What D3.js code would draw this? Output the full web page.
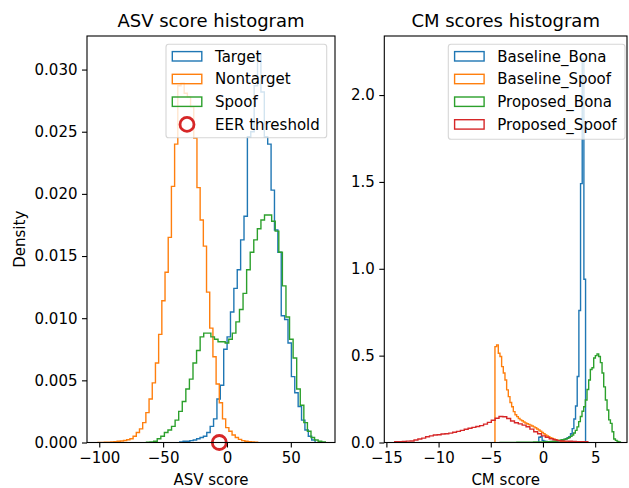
<!DOCTYPE html>
<html>
<head>
<meta charset="utf-8">
<script src="https://cdn.jsdelivr.net/npm/d3@7"></script>
<style>
  body { margin: 0; background: #fff; }
  text { font-family: "DejaVu Sans", sans-serif; }
</style>
</head>
<body>
<div id="chart"></div>
<script>
const width = 629, height = 488;

// ---- ASV score histograms (density per bin, bins = start + i*step) ----
const targetStart = -37, targetStep = 2.65;
const targetDensity = [
  0.00005, 0.0001, 0.0001, 0.00015, 0.0002, 0.0003, 0.0004, 0.0005, 0.0008, 0.0013,
  0.0019, 0.0035, 0.0046, 0.0075, 0.0085, 0.0105, 0.0124, 0.0139, 0.0163, 0.0182,
  0.0246, 0.0250, 0.0287, 0.0312, 0.0282, 0.0246, 0.0240, 0.0203, 0.0171, 0.0153,
  0.0102, 0.0099, 0.0080, 0.0053, 0.0040, 0.0029, 0.0018, 0.0010, 0.0005, 0.0002
];
const nontargetStart = -101, nontargetStep = 2.5;
const nontargetDensity = [
  0.00001, 0.00001, 0.00002, 0.00003, 0.00005, 0.00007, 0.0001, 0.00012, 0.00016, 0.00022,
  0.0003, 0.0005, 0.0008, 0.0011, 0.0016, 0.0024, 0.0035, 0.0048, 0.0064, 0.0087,
  0.0114, 0.0137, 0.0165, 0.0206, 0.0240, 0.0287, 0.0289, 0.0281, 0.0278, 0.0270,
  0.0245, 0.0205, 0.0179, 0.0158, 0.0121, 0.0092, 0.0069, 0.0047, 0.0032, 0.0019,
  0.0012, 0.0009, 0.0006, 0.0004, 0.00025, 0.00015, 0.0001, 0.00007, 0.00004, 0.00002
];
const spoofStart = -63, spoofStep = 2.8;
const spoofDensity = [
  0.00003, 0.00005, 0.0001, 0.0003, 0.0005, 0.0008, 0.0010, 0.0013, 0.0018, 0.0025,
  0.0033, 0.0043, 0.0051, 0.0064, 0.0074, 0.0085, 0.0088, 0.0088, 0.0085, 0.0083,
  0.0081, 0.0081, 0.0080, 0.0083, 0.0088, 0.0097, 0.0107, 0.0120, 0.0139, 0.0153,
  0.0163, 0.0172, 0.0179, 0.0183, 0.0183, 0.0178, 0.0170, 0.0153, 0.0126, 0.0101,
  0.0083, 0.0068, 0.0043, 0.0030, 0.0016, 0.0009, 0.0004, 0.0002, 0.0001, 0.00005
];
const eerThreshold = -6.0;

// ---- CM score histograms ----
const baseBonaStart = -0.4, baseBonaStep = 0.16;
const baseBonaDensity = [
  0.030, 0.033, 0.012, 0.008, 0.006, 0.005, 0.005, 0.005, 0.006, 0.006,
  0.007, 0.008, 0.009, 0.011, 0.014, 0.018, 0.022, 0.027, 0.034, 0.050,
  0.080, 0.135, 0.21, 0.38, 0.76, 1.49, 2.21, 0.94
];
const baseSpoofStart = -4.6, baseSpoofStep = 0.16;
const baseSpoofDensity = [
  0.552, 0.562, 0.514, 0.495, 0.437, 0.40, 0.36, 0.303, 0.264, 0.23,
  0.206, 0.178, 0.160, 0.149, 0.138, 0.130, 0.125, 0.118, 0.112, 0.108,
  0.104, 0.100, 0.095, 0.090, 0.085, 0.078, 0.072, 0.065, 0.058, 0.050,
  0.043, 0.037, 0.032, 0.028, 0.024, 0.020, 0.016, 0.013, 0.011, 0.009,
  0.007, 0.005, 0.004, 0.003, 0.002, 0.002, 0.001, 0.001
];
const propBonaStart = -4.1, propBonaStep = 0.16;
const propBonaDensity = [
  0.001, 0.001, 0.001, 0.001, 0.001, 0.001, 0.001, 0.001, 0.001, 0.001,
  0.002, 0.002, 0.002, 0.002, 0.002, 0.002, 0.002, 0.002, 0.002, 0.002,
  0.003, 0.003, 0.003, 0.003, 0.003, 0.003, 0.004, 0.004, 0.004, 0.004,
  0.006, 0.006, 0.006, 0.008, 0.010, 0.012, 0.014, 0.016, 0.018, 0.020,
  0.024, 0.029, 0.035, 0.043, 0.055, 0.070, 0.090, 0.120, 0.150, 0.180,
  0.206, 0.245, 0.305, 0.36, 0.42, 0.43, 0.486, 0.50, 0.51, 0.495,
  0.46, 0.40, 0.32, 0.245, 0.187, 0.13, 0.11, 0.062, 0.02, 0.012,
  0.006, 0.003
];
const propSpoofStart = -14.2, propSpoofStep = 0.37;
const propSpoofDensity = [
  0.004, 0.005, 0.006, 0.008, 0.009, 0.014, 0.020, 0.025, 0.033, 0.038,
  0.043, 0.045, 0.049, 0.050, 0.054, 0.059, 0.064, 0.070, 0.076, 0.082,
  0.087, 0.092, 0.097, 0.106, 0.116, 0.128, 0.140, 0.150, 0.148, 0.138,
  0.124, 0.114, 0.107, 0.100, 0.091, 0.077, 0.062, 0.050, 0.038, 0.030,
  0.022, 0.016, 0.011, 0.009, 0.008, 0.007, 0.006, 0.005, 0.005, 0.004
];

// ---- ticks ----
const asvXTicks = [-100, -50, 0, 50];
const asvYTicks = [0, 0.005, 0.010, 0.015, 0.020, 0.025, 0.030];
const cmXTicks = [-15, -10, -5, 0, 5];
const cmYTicks = [0, 0.5, 1.0, 1.5, 2.0];

const C = { blue: "#1f77b4", orange: "#ff7f0e", green: "#2ca02c", red: "#d62728" };
const FS = 15;

const svg = d3.select("#chart").append("svg")
  .attr("width", width).attr("height", height)
  .attr("viewBox", [0, 0, width, height]);

// matplotlib-style step outline of a histogram
function stepPoints(start, step, dens) {
  const pts = [[start, 0]];
  dens.forEach((d, i) => {
    pts.push([start + i * step, d]);
    pts.push([start + (i + 1) * step, d]);
  });
  pts.push([start + dens.length * step, 0]);
  return pts;
}

function panel(o) {
  const g = svg.append("g");
  const x = d3.scaleLinear().domain(o.xDomain).range([o.x0, o.x1]);
  const y = d3.scaleLinear().domain(o.yDomain).range([o.y1, o.y0]);

  g.append("clipPath").attr("id", o.id)
    .append("rect").attr("x", o.x0).attr("y", o.y0)
    .attr("width", o.x1 - o.x0).attr("height", o.y1 - o.y0 + 1);

  const line = d3.line().x(d => x(d[0])).y(d => y(d[1]));
  o.series.forEach(s => {
    g.append("path")
      .attr("d", line(stepPoints(s.start, s.step, s.values)))
      .attr("fill", "none")
      .attr("stroke", s.color)
      .attr("stroke-width", 1.4)
      .attr("clip-path", `url(#${o.id})`);
  });

  if (o.extra) o.extra(g, x, y);

  const xa = g.append("g").attr("transform", `translate(0,${o.y1})`)
    .call(d3.axisBottom(x).tickValues(o.xTicks).tickSize(5).tickPadding(4.5).tickSizeOuter(0));
  const ya = g.append("g").attr("transform", `translate(${o.x0},0)`)
    .call(d3.axisLeft(y).tickValues(o.yTicks).tickFormat(d3.format(o.yFmt))
      .tickSize(5).tickPadding(4.5).tickSizeOuter(0));
  [xa, ya].forEach(a => {
    a.select(".domain").remove();
    a.selectAll("line").attr("stroke", "#000").attr("stroke-width", 1.1);
    a.selectAll("text").attr("font-size", FS).attr("fill", "#000")
      .attr("font-family", "DejaVu Sans");
  });

  g.append("rect").attr("x", o.x0).attr("y", o.y0)
    .attr("width", o.x1 - o.x0).attr("height", o.y1 - o.y0)
    .attr("fill", "none").attr("stroke", "#000").attr("stroke-width", 1.1);

  g.append("text").attr("x", (o.x0 + o.x1) / 2).attr("y", 27)
    .attr("text-anchor", "middle").attr("font-size", 18).text(o.title);
  g.append("text").attr("x", (o.x0 + o.x1) / 2).attr("y", 485)
    .attr("text-anchor", "middle").attr("font-size", FS).text(o.xLabel);
  if (o.yLabel) {
    g.append("text").attr("transform", `translate(25,${(o.y0 + o.y1) / 2}) rotate(-90)`)
      .attr("text-anchor", "middle").attr("font-size", FS).text(o.yLabel);
  }

  // legend
  const L = o.legend;
  const lg = g.append("g");
  lg.append("rect").attr("x", L.x).attr("y", L.y).attr("width", L.w).attr("height", L.h)
    .attr("rx", 2.8).attr("fill", "#fff").attr("fill-opacity", 0.8)
    .attr("stroke", "#cccccc").attr("stroke-opacity", 0.8).attr("stroke-width", 1.1);
  L.items.forEach((it, i) => {
    const cy = L.y + 12 + i * 22.7;
    if (it.marker) {
      lg.append("circle").attr("cx", L.x + 21).attr("cy", cy).attr("r", 7)
        .attr("fill", "none").attr("stroke", it.color).attr("stroke-width", 2.8);
    } else {
      lg.append("rect").attr("x", L.x + 6.3).attr("y", cy - 4.7)
        .attr("width", 29.5).attr("height", 9.4)
        .attr("fill", "none").attr("stroke", it.color).attr("stroke-width", 1.4);
    }
    lg.append("text").attr("x", L.x + 49).attr("y", cy).attr("dy", "0.36em")
      .attr("font-size", FS).text(it.label);
  });
}

panel({
  id: "clipAsv", x0: 87, x1: 335, y0: 36, y1: 442.5,
  xDomain: [-109.6, 84.6], yDomain: [0, 0.0327],
  xTicks: asvXTicks, yTicks: asvYTicks, yFmt: ".3f",
  title: "ASV score histogram", xLabel: "ASV score", yLabel: "Density",
  series: [
    { start: targetStart, step: targetStep, values: targetDensity, color: C.blue },
    { start: nontargetStart, step: nontargetStep, values: nontargetDensity, color: C.orange },
    { start: spoofStart, step: spoofStep, values: spoofDensity, color: C.green }
  ],
  extra: (g, x, y) => {
    g.append("circle").attr("cx", x(eerThreshold)).attr("cy", y(0)).attr("r", 7)
      .attr("fill", "none").attr("stroke", C.red).attr("stroke-width", 2.8);
  },
  legend: {
    x: 166, y: 44.3, w: 160.7, h: 93.4,
    items: [
      { label: "Target", color: C.blue },
      { label: "Nontarget", color: C.orange },
      { label: "Spoof", color: C.green },
      { label: "EER threshold", color: C.red, marker: true }
    ]
  }
});

panel({
  id: "clipCm", x0: 384.3, x1: 627, y0: 36, y1: 442.5,
  xDomain: [-15.2, 8.05], yDomain: [0, 2.34],
  xTicks: cmXTicks, yTicks: cmYTicks, yFmt: ".1f",
  title: "CM scores histogram", xLabel: "CM score",
  series: [
    { start: baseBonaStart, step: baseBonaStep, values: baseBonaDensity, color: C.blue },
    { start: baseSpoofStart, step: baseSpoofStep, values: baseSpoofDensity, color: C.orange },
    { start: propBonaStart, step: propBonaStep, values: propBonaDensity, color: C.green },
    { start: propSpoofStart, step: propSpoofStep, values: propSpoofDensity, color: C.red }
  ],
  legend: {
    x: 448.3, y: 44.3, w: 176.7, h: 95,
    items: [
      { label: "Baseline_Bona", color: C.blue },
      { label: "Baseline_Spoof", color: C.orange },
      { label: "Proposed_Bona", color: C.green },
      { label: "Proposed_Spoof", color: C.red }
    ]
  }
});
</script>
</body>
</html>
